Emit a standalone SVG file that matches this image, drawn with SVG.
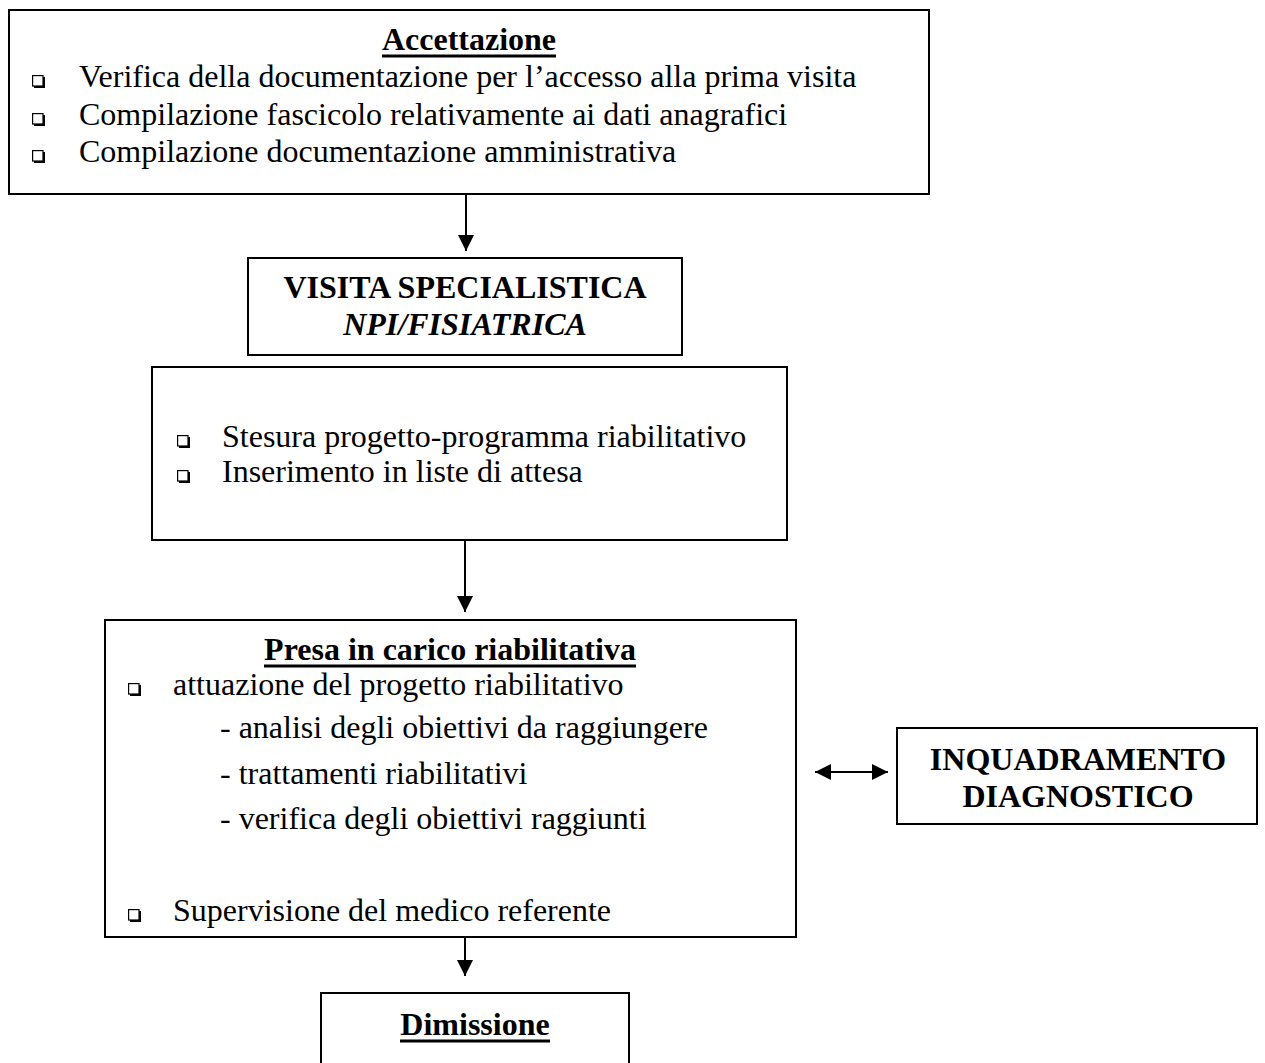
<svg xmlns="http://www.w3.org/2000/svg" width="1265" height="1063" viewBox="0 0 1265 1063">
<style>
.box{fill:#fff;stroke:#000;stroke-width:2}
.t{font-family:"Liberation Serif","Times New Roman",serif;font-size:32px;fill:#000}
.b{font-weight:bold}
.i{font-style:italic}
.c{text-anchor:middle}
.ul{stroke:#000;stroke-width:3}
.conn{stroke:#000;stroke-width:2;fill:none}
</style>
<defs>
<marker id="ah" markerUnits="userSpaceOnUse" markerWidth="17" markerHeight="17" refX="16" refY="8" orient="auto-start-reverse" viewBox="0 0 17 17"><path d="M0,0 L16,8 L0,16 Z" fill="#000"/></marker>
<g id="bul"><rect x="2" y="2" width="11" height="11" fill="#000"/><rect x="0.6" y="0.6" width="10.4" height="10.4" fill="#fff" stroke="#000" stroke-width="1.2"/></g>
</defs>

<g id="accettazione">
<rect class="box" x="9" y="10" width="920" height="184"/>
<text class="t b c" x="469" y="50">Accettazione</text>
<line class="ul" x1="382" y1="56" x2="556" y2="56"/>
<use href="#bul" x="32" y="75"/>
<text class="t" x="79" y="87">Verifica della documentazione per l’accesso alla prima visita</text>
<use href="#bul" x="32" y="113"/>
<text class="t" x="79" y="125">Compilazione fascicolo relativamente ai dati anagrafici</text>
<use href="#bul" x="32" y="150"/>
<text class="t" x="79" y="162">Compilazione documentazione amministrativa</text>
</g>

<g id="visita">
<rect class="box" x="248" y="258" width="434" height="97"/>
<text class="t b c" x="465" y="298">VISITA SPECIALISTICA</text>
<text class="t b i c" x="465" y="335">NPI/FISIATRICA</text>
</g>

<g id="progetto">
<rect class="box" x="152" y="367" width="635" height="173"/>
<use href="#bul" x="177" y="435"/>
<text class="t" x="222" y="447">Stesura progetto-programma riabilitativo</text>
<use href="#bul" x="177" y="470"/>
<text class="t" x="222" y="482">Inserimento in liste di attesa</text>
</g>

<g id="presa">
<rect class="box" x="105" y="620" width="691" height="317"/>
<text class="t b c" x="450" y="660">Presa in carico riabilitativa</text>
<line class="ul" x1="264" y1="666" x2="636" y2="666"/>
<use href="#bul" x="128" y="683"/>
<text class="t" x="173" y="695">attuazione del progetto riabilitativo</text>
<text class="t" x="220" y="738">- analisi degli obiettivi da raggiungere</text>
<text class="t" x="220" y="784">- trattamenti riabilitativi</text>
<text class="t" x="220" y="829">- verifica degli obiettivi raggiunti</text>
<use href="#bul" x="128" y="909"/>
<text class="t" x="173" y="921">Supervisione del medico referente</text>
</g>

<g id="inquadramento">
<rect class="box" x="897" y="728" width="360" height="96"/>
<text class="t b c" x="1078" y="770">INQUADRAMENTO</text>
<text class="t b c" x="1078" y="807">DIAGNOSTICO</text>
</g>

<g id="dimissione">
<rect class="box" x="321" y="993" width="308" height="90"/>
<text class="t b c" x="475" y="1035">Dimissione</text>
<line class="ul" x1="400" y1="1041" x2="550" y2="1041"/>
</g>

<g id="connectors">
<line class="conn" x1="466" y1="194" x2="466" y2="251" marker-end="url(#ah)"/>
<line class="conn" x1="465" y1="540" x2="465" y2="612" marker-end="url(#ah)"/>
<line class="conn" x1="465" y1="937" x2="465" y2="976" marker-end="url(#ah)"/>
<line class="conn" x1="815" y1="772" x2="888" y2="772" marker-start="url(#ah)" marker-end="url(#ah)"/>
</g>
</svg>
